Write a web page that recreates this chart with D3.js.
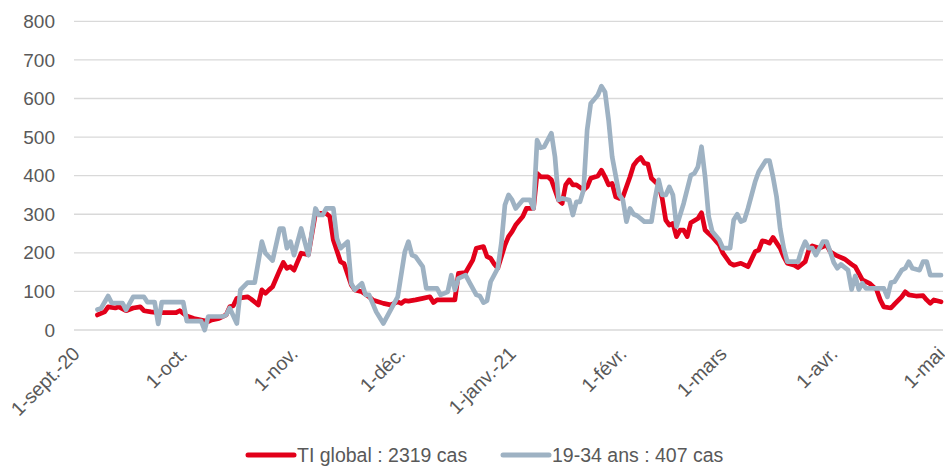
<!DOCTYPE html>
<html><head><meta charset="utf-8">
<script src="https://cdn.jsdelivr.net/npm/d3@7"></script>
<style>
html,body{margin:0;padding:0;background:#fff;}
svg{display:block;font-family:"Liberation Sans",Arial,sans-serif;}
</style></head>
<body>
<svg id="chart" width="945" height="466"></svg>
<script>
// ---- data (days since 1 Sept 2020) ----
const redDays = [6,8,9,11,12,14,16,18,19,21,23,28,29,31,33,35,37,38,40,42,43,44,45,48,49,51,52,53,54,55,57,58,59,60,61,63,65,67,70,71,72,74,75,77,78,80,82,83,86,88,90,91,92,93,95,97,99,100,101,106,107,109,111,112,114,115,116,117,118,120,121,122,123,125,126,128,129,130,132,133,135,136,137,138,139,140,142,143,144,146,147,148,149,150,151,152,153,155,156,157,158,159,160,161,163,164,165,166,167,168,169,170,171,172,174,175,176,177,178,180,181,183,184,186,188,190,191,192,193,194,195,197,198,199,201,202,204,205,206,208,210,211,213,215,217,218,220,222,224,225,226,228,229,231,232,233,235,237,238,239,240,242];
const redValues = [39,47,60,57,60,50,57,60,50,47,45,45,50,36,30,26,22,26,30,39,60,63,82,86,80,65,104,95,104,112,155,175,160,164,155,199,195,302,302,294,233,177,172,117,104,99,86,78,69,65,73,69,76,75,78,82,86,71,78,78,147,149,181,212,216,190,186,171,160,220,242,255,272,294,315,315,406,397,397,389,337,328,376,389,376,376,363,371,393,399,414,397,376,380,345,341,345,397,427,439,447,432,430,393,376,341,285,272,276,242,259,259,242,278,289,304,259,250,242,220,199,173,168,173,164,203,207,231,229,225,240,212,190,173,168,162,177,207,218,212,220,203,192,184,170,164,130,121,104,78,60,57,67,86,99,91,88,89,78,69,78,73];

const greyDays = [6,7,9,10,13,14,16,19,20,22,23,24,30,31,35,36,37,41,42,43,45,46,48,50,52,53,55,57,58,59,60,61,63,65,67,68,69,70,72,73,74,76,77,78,80,81,82,84,86,90,92,93,94,95,97,98,101,102,104,105,106,107,109,110,112,113,114,115,116,118,119,120,121,122,123,125,127,128,129,130,131,133,134,135,136,138,139,140,141,142,143,144,146,147,148,149,150,152,153,154,155,156,157,159,161,162,163,164,165,166,167,168,170,172,173,174,175,176,177,178,180,181,183,184,185,186,187,188,190,191,193,194,195,196,197,198,199,202,203,204,205,206,207,209,210,211,212,213,214,216,217,218,219,220,221,226,227,228,229,231,232,233,234,236,237,238,239,242];
const greyValues = [53,56,88,70,70,52,86,86,72,72,16,72,72,23,23,0,35,35,39,57,17,104,123,123,229,199,180,263,263,212,229,194,263,194,315,298,298,315,315,237,212,229,121,104,121,91,91,47,17,86,203,229,194,190,164,108,108,91,99,142,104,134,142,125,91,88,71,76,125,160,225,324,350,337,315,337,337,315,492,472,475,510,449,337,341,337,298,332,332,363,518,587,609,632,617,544,449,350,337,281,315,300,296,281,281,341,389,350,350,371,350,268,328,401,406,423,475,397,294,255,233,212,212,285,300,281,285,315,384,410,439,439,397,345,263,212,177,177,207,229,212,212,194,229,229,203,175,160,170,155,105,140,105,121,108,108,86,123,125,155,160,177,160,155,177,177,142,142];

const yTicks = [0,100,200,300,400,500,600,700,800];
const xTickDates = ["2020-09-01","2020-10-01","2020-11-01","2020-12-01","2021-01-01","2021-02-01","2021-03-01","2021-04-01","2021-05-01"];
const xTickLabels = ["1-sept.-20","1-oct.","1-nov.","1-déc.","1-janv.-21","1-févr.","1-mars","1-avr.","1-mai"];
const seriesNames = ["TI global : 2319 cas","19-34 ans : 407 cas"];
const seriesColors = ["#E2001A","#9EB2C3"];

// ---- drawing ----
const svg = d3.select("#chart");
svg.append("rect").attr("width",945).attr("height",466).attr("fill","#fff");
const start = new Date(Date.UTC(2020,8,1));
const dayToDate = d => d3.utcDay.offset(start, d);

const x = d3.scaleUtc().domain([start, new Date(Date.UTC(2021,4,1))]).range([76, 941]);
const y = d3.scaleLinear().domain([0,800]).range([330, 21.3]);
const gridX0 = 74, gridX1 = 943;

// gridlines
svg.append("g").selectAll("line").data(yTicks).join("line")
  .attr("x1",gridX0).attr("x2",gridX1)
  .attr("y1",d=>y(d)).attr("y2",d=>y(d))
  .attr("stroke","#D9D9D9").attr("stroke-width",1.3);

// y labels
svg.append("g").selectAll("text").data(yTicks).join("text")
  .attr("x",55).attr("y",d=>y(d)).attr("dy","0.35em")
  .attr("text-anchor","end").attr("font-size",19).attr("fill","#595959")
  .text(d=>d);

// x labels
const parse = d3.utcParse("%Y-%m-%d");
svg.append("g").selectAll("text").data(xTickDates).join("text")
  .attr("transform",(d)=>`translate(${x(parse(d))+5},${355}) rotate(-45)`)
  .attr("text-anchor","end").attr("font-size",19.5).attr("fill","#595959")
  .text((d,i)=>xTickLabels[i]);

// lines
const line = d3.line().x(d=>x(dayToDate(d[0]))).y(d=>y(d[1])).curve(d3.curveLinear);
const redData = redDays.map((d,i)=>[d, redValues[i]]);
const greyData = greyDays.map((d,i)=>[d, greyValues[i]]);
svg.append("path").datum(redData).attr("d",line).attr("fill","none")
  .attr("stroke",seriesColors[0]).attr("stroke-width",4.7).attr("stroke-linejoin","round").attr("stroke-linecap","round");
svg.append("path").datum(greyData).attr("d",line).attr("fill","none")
  .attr("stroke",seriesColors[1]).attr("stroke-width",4.7).attr("stroke-linejoin","round").attr("stroke-linecap","round");

// legend
const legX = [248, 503];
const leg = svg.append("g").selectAll("g").data(seriesNames).join("g");
leg.append("line").attr("x1",(d,i)=>legX[i]).attr("x2",(d,i)=>legX[i]+46)
  .attr("y1",455).attr("y2",455).attr("stroke",(d,i)=>seriesColors[i])
  .attr("stroke-width",5).attr("stroke-linecap","round");
leg.append("text").attr("x",(d,i)=>legX[i]+49).attr("y",455).attr("dy","0.35em")
  .attr("font-size",19.5).attr("fill","#595959").text(d=>d);
</script>
</body></html>
